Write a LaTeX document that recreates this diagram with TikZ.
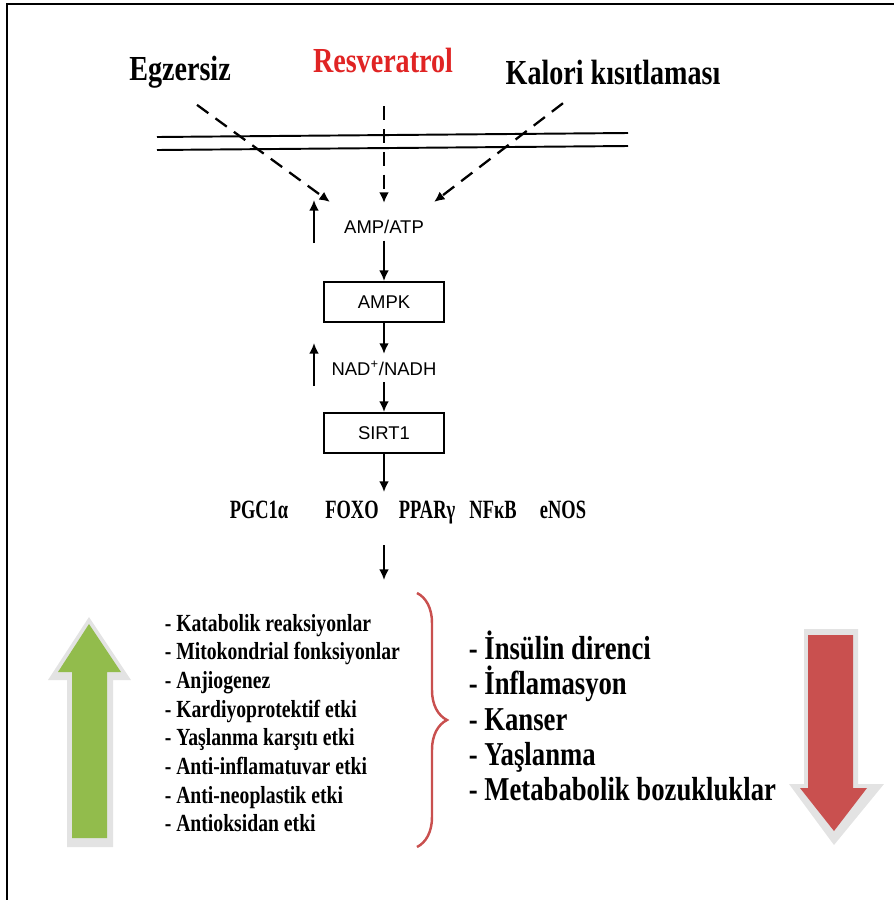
\documentclass[tikz,border=0pt]{standalone}
\usepackage{fontspec}
\setmainfont{Liberation Serif}
\newfontfamily\cond[FakeStretch=0.8]{Liberation Serif}
\newfontfamily\narrow[FakeStretch=0.7]{Liberation Serif}
\newfontfamily\arial{Liberation Sans}
\usetikzlibrary{arrows.meta,positioning,decorations.pathreplacing}

\definecolor{resred}{HTML}{E02424}
\definecolor{upgreen}{HTML}{92BC4C}
\definecolor{downred}{HTML}{C9504F}

\begin{document}
\begin{tikzpicture}[->,
            >={Latex[length=6pt,width=5.5pt]},
            x=0.02cm, y=-0.02cm,
            line width=1.1pt,
            node distance=1.5cm,
            lbl/.style={font=\cond\bfseries\fontsize{20}{22}\selectfont},
            sans/.style={font=\arial\fontsize{10.5}{12}\selectfont},
            box/.style={draw, rectangle, minimum width=2.4cm, minimum height=0.8cm,
                        font=\arial\fontsize{10.5}{12}\selectfont},
            gene/.style={anchor=base, font=\narrow\bfseries\fontsize{15}{17}\selectfont},
            dashline/.style={line width=1.3pt, dash pattern=on 8pt off 5pt}]

        \useasboundingbox (0,0) rectangle (894,900);
        \draw[-, line width=1.3pt] (7,900) -- (7,4) -- (894,4);

        % inputs
        \node[lbl]              (egz)    at (180,72) {Egzersiz};
        \node[lbl,text=resred]  (res)    at (383,60) {Resveratrol};
        \node[lbl]              (kal)    at (613,72) {Kalori kısıtlaması};

        % membrane
        \draw[-] (157,137) -- (628,133);
        \draw[-] (157,150) -- (628,146);

        % pathway
        \node[sans]  (ampatp)                                      at (384,227) {AMP/ATP};
        \node[box]   (ampk)   [below of=ampatp]                                 {AMPK};
        \node[sans]  (nad)    [below of=ampk, node distance=1.32cm]             {NAD\textsuperscript{+}/NADH};
        \node[box]   (sirt)   [below of=nad, node distance=1.3cm]               {SIRT1};

        \node[gene]  (pgc)    at (259,518) {PGC1α};
        \node[gene]  (foxo)   at (352,518) {FOXO};
        \node[gene]  (ppar)   at (427,518) {PPARγ};
        \node[gene]  (nfkb)   at (493,518) {NFκB};
        \node[gene]  (enos)   at (563,518) {eNOS};

        \coordinate (egzin)  at (330,202);
        \coordinate (resin)  at (384,203);
        \coordinate (kalin)  at (434,202);
        \coordinate (up1a)   at (314,243);
        \coordinate (up1b)   at (314,200);
        \coordinate (up2a)   at (314,386);
        \coordinate (up2b)   at (314,343);
        \coordinate (rowtop) at (384,492);
        \coordinate (rowbot) at (384,545);
        \coordinate (effin)  at (384,580);

        \draw[dashline] ([shift={(17,10)}]egz.south)   -- (egzin);
        \draw[dashline] ([shift={(1,27)}]res.south)    -- (resin);
        \draw[dashline] ([shift={(-50,12)}]kal.south)  -- (kalin);

        \draw (up1a) -- (up1b);
        \draw (up2a) -- (up2b);

        \path (ampatp) edge (ampk)
              (ampk)   edge (nad)
              (nad)    edge (sirt)
              (sirt)   edge (rowtop)
              (rowbot) edge (effin);

        % effects
        \node[font=\cond\bfseries\fontsize{14}{16.3}\selectfont, align=left, anchor=west]
              (plus) at (158,723) {- Katabolik reaksiyonlar\\
                                   - Mitokondrial fonksiyonlar\\
                                   - Anjiogenez\\
                                   - Kardiyoprotektif etki\\
                                   - Yaşlanma karşıtı etki\\
                                   - Anti-inflamatuvar etki\\
                                   - Anti-neoplastik etki\\
                                   - Antioksidan etki};
        \node[font=\cond\bfseries\fontsize{19}{20}\selectfont, align=left, anchor=west]
              (minus) at (462,716) {- İnsülin direnci\\
                                    - İnflamasyon\\
                                    - Kanser\\
                                    - Yaşlanma\\
                                    - Metababolik bozukluklar};

        \coordinate (brtop) at (417,593);
        \coordinate (brbot) at (417,847);
        \draw[-, downred, line width=1.4pt, decorate,
              decoration={brace, amplitude=0.6cm}] (brtop) -- (brbot);

        % block arrows
        \fill[gray!22] (89,617) -- (131,680) -- (113,680) -- (113,847)
                       -- (67,847) -- (67,680) -- (48,680) -- cycle;
        \fill[upgreen] (89,624) -- (121,672) -- (107,672) -- (107,838)
                       -- (72,838) -- (72,672) -- (58,672) -- cycle;

        \fill[gray!22] (804,629) -- (858,629) -- (858,784) -- (884,784)
                       -- (834,845) -- (789,784) -- (804,784) -- cycle;
        \fill[downred] (808,635) -- (853,635) -- (853,788) -- (867,788)
                       -- (834,831) -- (800,788) -- (808,788) -- cycle;

    \end{tikzpicture}
\end{document}
